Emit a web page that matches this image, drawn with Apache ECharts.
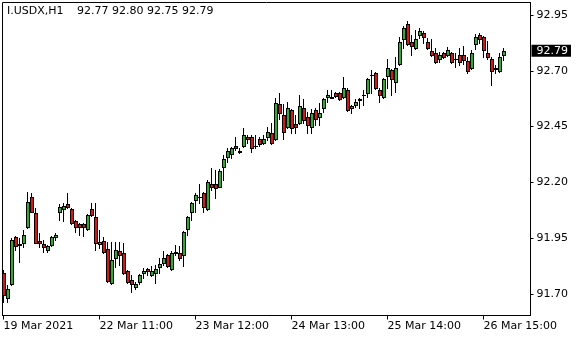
<!DOCTYPE html>
<html><head><meta charset="utf-8">
<script src="https://cdn.jsdelivr.net/npm/echarts@6/dist/echarts.min.js"></script>
<style>html,body{margin:0;padding:0;background:#fff}#c{width:580px;height:340px}</style>
</head><body><div id="c"></div>
<script>
const symbol = 'I.USDX,H1';
const open = [91.794,91.682,91.745,91.955,91.924,91.929,92.000,92.135,92.063,91.938,
91.924,91.897,91.920,91.955,92.067,92.081,92.103,92.081,92.027,92.014,
92.014,91.991,92.081,92.045,91.924,91.938,91.902,91.749,91.861,91.893,
91.884,91.803,91.763,91.731,91.754,91.794,91.812,91.785,91.794,91.821,
91.839,91.875,91.812,91.888,91.884,91.875,91.991,92.067,92.121,92.135,
92.153,92.081,92.193,92.193,92.179,92.269,92.314,92.327,92.363,92.341,
92.363,92.403,92.403,92.363,92.395,92.377,92.403,92.421,92.395,92.551,
92.502,92.448,92.524,92.462,92.466,92.533,92.493,92.448,92.524,92.493,
92.533,92.583,92.583,92.601,92.601,92.583,92.614,92.533,92.547,92.574,
92.592,92.601,92.681,92.690,92.614,92.583,92.677,92.704,92.650,92.731,
92.843,92.910,92.829,92.802,92.860,92.869,92.829,92.789,92.780,92.753,
92.780,92.771,92.780,92.753,92.771,92.771,92.744,92.713,92.820,92.860,
92.851,92.780,92.753,92.713,92.699,92.77];
const close = [91.696,91.723,91.942,91.915,91.920,91.964,92.112,92.067,91.929,91.929,
91.911,91.915,91.955,91.964,92.090,92.094,92.090,92.018,92.000,92.000,
92.000,92.054,92.054,91.929,91.933,91.888,91.758,91.852,91.897,91.875,
91.794,91.754,91.745,91.745,91.785,91.803,91.803,91.803,91.812,91.835,
91.861,91.826,91.884,91.886,91.861,91.978,92.045,92.108,92.144,92.133,
92.090,92.202,92.179,92.175,92.251,92.305,92.341,92.354,92.354,92.338,
92.412,92.395,92.354,92.361,92.372,92.395,92.426,92.377,92.556,92.511,
92.426,92.533,92.444,92.448,92.542,92.480,92.457,92.511,92.484,92.511,
92.574,92.592,92.580,92.587,92.574,92.623,92.524,92.542,92.560,92.571,
92.590,92.663,92.679,92.623,92.592,92.663,92.713,92.663,92.713,92.829,
92.892,92.820,92.811,92.843,92.878,92.851,92.802,92.771,92.739,92.771,
92.762,92.793,92.739,92.751,92.739,92.748,92.699,92.780,92.851,92.843,
92.793,92.762,92.699,92.710,92.762,92.79];
const low = [91.664,91.664,91.740,91.897,91.843,91.911,91.996,92.067,91.929,91.911,
91.888,91.888,91.915,91.942,92.032,92.027,92.085,92.014,91.978,91.964,
91.960,91.987,92.050,91.897,91.906,91.884,91.754,91.745,91.821,91.830,
91.790,91.749,91.709,91.723,91.745,91.772,91.785,91.781,91.749,91.794,
91.830,91.821,91.808,91.875,91.852,91.826,91.964,92.032,92.067,92.108,
92.067,92.076,92.166,92.130,92.179,92.211,92.291,92.309,92.345,92.332,
92.359,92.377,92.336,92.354,92.363,92.372,92.390,92.372,92.390,92.484,
92.395,92.444,92.421,92.421,92.462,92.466,92.421,92.421,92.457,92.457,
92.515,92.560,92.578,92.583,92.569,92.578,92.520,92.511,92.538,92.533,
92.547,92.583,92.601,92.619,92.560,92.578,92.623,92.592,92.605,92.726,
92.802,92.816,92.771,92.798,92.847,92.825,92.798,92.766,92.735,92.739,
92.757,92.766,92.735,92.717,92.726,92.731,92.690,92.708,92.798,92.825,
92.762,92.753,92.636,92.690,92.695,92.75];
const high = [91.808,91.740,91.951,91.960,91.951,91.987,92.157,92.153,92.085,91.973,
91.942,91.920,91.960,91.973,92.103,92.108,92.153,92.085,92.032,92.018,
92.018,92.059,92.108,92.108,91.987,91.955,91.933,91.933,91.933,91.933,
91.929,91.808,91.785,91.754,91.790,91.817,91.817,91.826,91.830,91.861,
91.893,91.879,91.893,91.920,91.915,91.982,92.050,92.112,92.153,92.193,
92.157,92.211,92.265,92.256,92.260,92.323,92.354,92.359,92.403,92.354,
92.444,92.412,92.412,92.412,92.403,92.412,92.448,92.466,92.578,92.601,
92.551,92.560,92.529,92.502,92.592,92.574,92.515,92.529,92.533,92.556,
92.578,92.614,92.614,92.605,92.605,92.672,92.623,92.547,92.574,92.576,
92.614,92.668,92.704,92.695,92.623,92.668,92.753,92.708,92.762,92.851,
92.901,92.923,92.860,92.883,92.892,92.878,92.847,92.843,92.802,92.784,
92.784,92.807,92.784,92.780,92.802,92.811,92.762,92.793,92.865,92.869,
92.856,92.834,92.762,92.726,92.780,92.80];
const tickIdx = [0, 24, 48, 72, 96, 120];
const tickLabels = ['19 Mar 2021', '22 Mar 11:00', '23 Mar 12:00', '24 Mar 13:00', '25 Mar 14:00', '26 Mar 15:00'];
const yTicks = [91.70, 91.95, 92.20, 92.45, 92.70, 92.95];

const n = close.length - 1;
const lastPrice = close[n];
const header = [open[n], high[n], low[n], close[n]].map(v => v.toFixed(2)).join(' ');
const data = open.map((o, i) => [i, o, close[i], low[i], high[i]]);
const F = 'DejaVu Sans';
const G = '#22b422', R = '#dc1414';

function renderItem(params, api) {
  const i = api.value(0), o = api.value(1), c = api.value(2), l = api.value(3), h = api.value(4);
  const pH = api.coord([i, h]), pL = api.coord([i, l]), pO = api.coord([i, o]), pC = api.coord([i, c]);
  const col = Math.floor(pH[0]);
  const yH = Math.round(pH[1]), yL = Math.round(pL[1]);
  const yT = Math.round(Math.min(pO[1], pC[1]));
  const yB = Math.round(Math.max(pO[1], pC[1]));
  const up = c >= o;
  const kids = [
    {type: 'rect', shape: {x: col, y: yH, width: 1, height: yL - yH + 1}, style: {fill: '#000'}},
    {type: 'rect', shape: {x: col - 1, y: yT, width: 4, height: yB - yT + 1}, style: {fill: '#000'}}
  ];
  if (yB - yT >= 2) {
    kids.push({type: 'rect', shape: {x: col, y: yT + 1, width: 2, height: yB - yT - 1}, style: {fill: up ? G : R}});
  }
  return {type: 'group', children: kids};
}

const chart = echarts.init(document.getElementById('c'), null, {renderer: 'canvas'});
chart.setOption({
  animation: false,
  backgroundColor: '#fff',
  textStyle: {fontFamily: F},
  grid: {left: 2.5, top: 2.5, right: 49.5, bottom: 24.5, show: true, borderColor: '#000', borderWidth: 1, backgroundColor: '#fff'},
  graphic: [
    {type: 'text', left: 7, top: 6, style: {text: symbol, fill: '#000', font: '11px "DejaVu Sans"'}},
    {type: 'text', left: 77, top: 6, style: {text: header, fill: '#000', font: '11px "DejaVu Sans"'}}
  ],
  xAxis: {
    type: 'value', min: -0.25, max: 131.75,
    axisLine: {show: true, onZero: false, lineStyle: {color: '#000', width: 1}},
    splitLine: {show: false},
    axisTick: {show: true, length: 4, customValues: tickIdx, lineStyle: {color: '#000'}},
    axisLabel: {customValues: tickIdx, formatter: v => { const k = tickIdx.indexOf(Math.round(v)); return k >= 0 ? tickLabels[k] : ''; },
      align: 'left', margin: 5, color: '#000', fontFamily: F, fontSize: 11}
  },
  yAxis: {
    type: 'value', position: 'right', min: 91.6038, max: 93.006,
    axisLine: {show: true, onZero: false, lineStyle: {color: '#000', width: 1}},
    splitLine: {show: false},
    axisTick: {show: true, length: 3, customValues: yTicks, lineStyle: {color: '#000'}},
    axisLabel: {customValues: yTicks, formatter: v => v.toFixed(2), margin: 6, color: '#000', fontFamily: F, fontSize: 11}
  },
  series: [{
    type: 'custom',
    renderItem: renderItem,
    data: data,
    encode: {x: 0, y: [1, 2, 3, 4]},
    clip: true,
    markLine: {
      silent: true, symbol: 'none', animation: false,
      lineStyle: {color: 'rgba(0,0,0,0)', width: 0},
      label: {show: true, position: 'end', distance: 1, formatter: lastPrice.toFixed(2),
        backgroundColor: '#000', color: '#fff', padding: [1, 3, 0, 5], fontFamily: F, fontSize: 11},
      data: [{yAxis: lastPrice}]
    }
  }]
});
</script></body></html>
